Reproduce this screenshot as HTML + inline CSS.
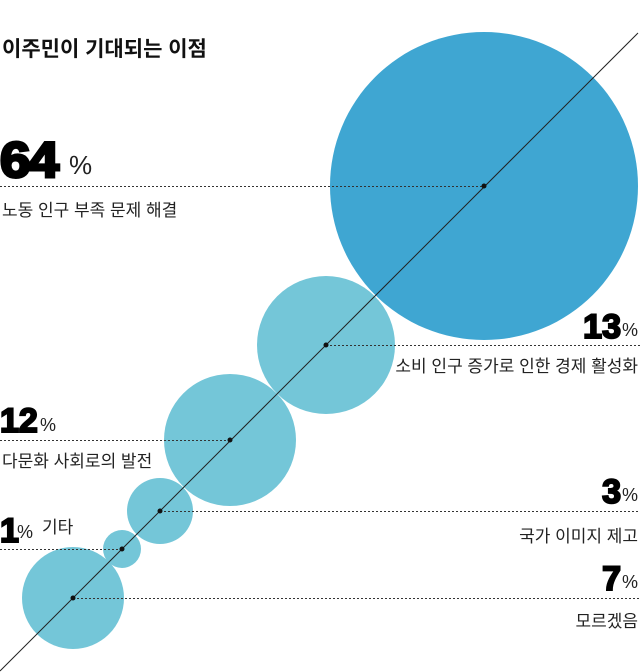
<!DOCTYPE html>
<html><head><meta charset="utf-8"><style>
html,body{margin:0;padding:0;background:#fff;}
svg{display:block;}
.t{font-family:"Liberation Sans","Noto Sans CJK KR",sans-serif;}
.n{font-family:"Liberation Sans","DejaVu Sans",sans-serif;font-weight:900;fill:#000;}
.p{font-family:"Liberation Sans",sans-serif;font-weight:400;}
</style></head><body>
<svg width="640" height="672" viewBox="0 0 640 672" xmlns="http://www.w3.org/2000/svg">
<text x="2" y="56" class="t" font-size="21" font-weight="700" fill="#111">이주민이 기대되는 이점</text>
<circle cx="484" cy="186" r="154" fill="#3fa6d2"/>
<circle cx="326" cy="345" r="69" fill="#74c6d8"/>
<circle cx="230" cy="440" r="66" fill="#74c6d8"/>
<circle cx="160" cy="511" r="33" fill="#74c6d8"/>
<circle cx="122" cy="549" r="19" fill="#74c6d8"/>
<circle cx="73" cy="598" r="51" fill="#74c6d8"/>
<line x1="0" y1="671" x2="638" y2="33" stroke="#222" stroke-width="1"/>
<g stroke="#333" stroke-width="1" stroke-dasharray="2,2">
<line x1="0" y1="186.5" x2="484" y2="186.5"/>
<line x1="326" y1="345.5" x2="640" y2="345.5"/>
<line x1="0" y1="440.5" x2="230" y2="440.5"/>
<line x1="160" y1="511.5" x2="640" y2="511.5"/>
<line x1="0" y1="549.5" x2="122" y2="549.5"/>
<line x1="73" y1="598.5" x2="640" y2="598.5"/>
</g>
<g fill="#111">
<circle cx="484" cy="186" r="2.5"/><circle cx="326" cy="345" r="2.5"/><circle cx="230" cy="440" r="2.5"/>
<circle cx="160" cy="511" r="2.5"/><circle cx="122" cy="549" r="2.5"/><circle cx="73" cy="598" r="2.5"/>
</g>
<text x="0" y="177" class="n" font-size="50" stroke="#000" stroke-width="3" transform="scale(1.1,1)" letter-spacing="-2">64</text>
<text x="69" y="174" class="p" font-size="26" fill="#222">%</text>
<text x="2" y="216" class="t" font-size="17" fill="#222">노동 인구 부족 문제 해결</text>
<text x="621" y="338" class="n" font-size="34" text-anchor="end" stroke="#000" stroke-width="2">13</text>
<text x="638" y="336" class="p" font-size="18" fill="#222" text-anchor="end">%</text>
<text x="638" y="372" class="t" font-size="17" fill="#222" text-anchor="end">소비 인구 증가로 인한 경제 활성화</text>
<text x="0" y="432" class="n" font-size="34" stroke="#000" stroke-width="2">12</text>
<text x="40" y="431" class="p" font-size="18" fill="#222">%</text>
<text x="2" y="467" class="t" font-size="17" fill="#222">다문화 사회로의 발전</text>
<text x="621" y="503" class="n" font-size="34" text-anchor="end" stroke="#000" stroke-width="2">3</text>
<text x="638" y="501" class="p" font-size="18" fill="#222" text-anchor="end">%</text>
<text x="638" y="542" class="t" font-size="17" fill="#222" text-anchor="end">국가 이미지 제고</text>
<text x="0" y="542" class="n" font-size="34" stroke="#000" stroke-width="2">1</text>
<text x="17" y="538" class="p" font-size="18" fill="#222">%</text>
<text x="42" y="533" class="t" font-size="17" fill="#222">기타</text>
<text x="621" y="590" class="n" font-size="34" text-anchor="end" stroke="#000" stroke-width="2">7</text>
<text x="638" y="588" class="p" font-size="18" fill="#222" text-anchor="end">%</text>
<text x="638" y="627" class="t" font-size="17" fill="#222" text-anchor="end">모르겠음</text>
</svg>
</body></html>
